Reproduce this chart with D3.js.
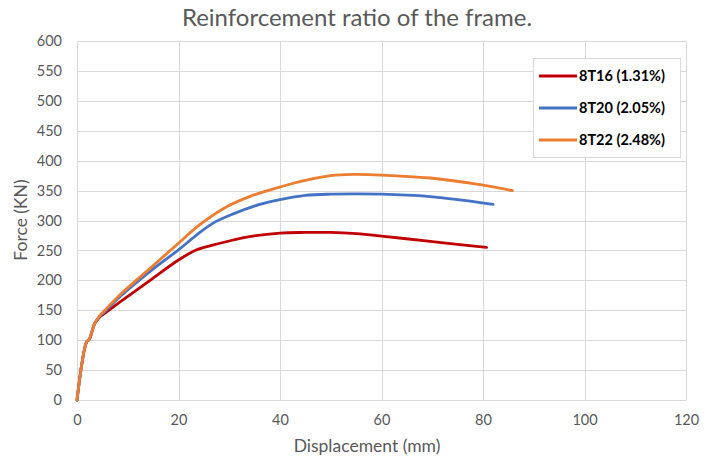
<!DOCTYPE html>
<html>
<head>
<meta charset="utf-8">
<script src="https://cdn.jsdelivr.net/npm/d3@7"></script>
<style>
  body { margin: 0; background: #fff; }
  text { font-family: Lato, "Open Sans", sans-serif; }
</style>
</head>
<body>
<div id="chart-area"></div>
<script>
// Data
var xTicks = [0, 20, 40, 60, 80, 100, 120];
var yTicks = [0, 50, 100, 150, 200, 250, 300, 350, 400, 450, 500, 550, 600];

var t16 = [[0, 0], [1.9, 97], [2.4, 101], [3.5, 128], [4.4, 138], [5.5, 145], [8.5, 164], [14.4, 200], [20, 234],
  [23.6, 251], [28.2, 262], [34, 273], [40, 279], [45, 280], [50, 280], [55, 278], [60, 274], [69.6, 265], [75, 260], [80.7, 255]];
var t20 = [[0, 0], [1.9, 97], [2.4, 101], [3.5, 128], [4.4, 139], [5.5, 148], [8.5, 173], [14.4, 215], [20, 251],
  [23.6, 276], [26.9, 296], [30.8, 311], [36, 327], [40, 335], [45, 342], [50, 344], [60, 344], [69.6, 340], [75, 335], [82, 327]];
var t22 = [[0, 0], [1.9, 97], [2.4, 101], [3.5, 128], [4.4, 140], [5.5, 150], [8.5, 176], [14.4, 220], [20, 262],
  [24.2, 293], [29.5, 323], [34, 340], [40, 356], [45, 367], [50, 375], [54.4, 377], [60, 376], [69.6, 371], [79.4, 360], [85.8, 350]];

var seriesNames = ["8T16 (1.31%)", "8T20 (2.05%)", "8T22 (2.48%)"];
var seriesColors = ["#C00000", "#4472C4", "#ED7D31"];
var seriesData = [t16, t20, t22];

var margin = { left: 77, right: 29, top: 41, bottom: 57 },
  width = 715 - margin.left - margin.right,
  height = 457 - margin.top - margin.bottom;

var svg = d3.select("#chart-area")
  .append("svg")
  .attr("width", 715)
  .attr("height", 457);

var g = svg.append("g")
  .attr("transform", "translate(" + margin.left + "," + margin.top + ")");

var x = d3.scaleLinear().domain([0, 120]).range([0, width]);
var y = d3.scaleLinear().domain([0, 600]).range([height, 0]);

// Gridlines
g.append("g")
  .selectAll("line.h")
  .data(yTicks)
  .enter()
  .append("line")
  .attr("x1", 0)
  .attr("x2", width)
  .attr("y1", function(d) { return Math.round(y(d)) + 0.5; })
  .attr("y2", function(d) { return Math.round(y(d)) + 0.5; })
  .attr("stroke", "#D9D9D9")
  .attr("stroke-width", 1);

g.append("g")
  .selectAll("line.v")
  .data(xTicks)
  .enter()
  .append("line")
  .attr("y1", 0)
  .attr("y2", height)
  .attr("x1", function(d) { return Math.round(x(d)) + 0.5; })
  .attr("x2", function(d) { return Math.round(x(d)) + 0.5; })
  .attr("stroke", "#D9D9D9")
  .attr("stroke-width", 1);

// Axes (labels only)
var xAxis = g.append("g")
  .attr("transform", "translate(0," + height + ")")
  .call(d3.axisBottom(x).tickValues(xTicks).tickSize(0).tickPadding(15));
var yAxis = g.append("g")
  .call(d3.axisLeft(y).tickValues(yTicks).tickSize(0).tickPadding(15));

[xAxis, yAxis].forEach(function(a) {
  a.select(".domain").remove();
  a.selectAll("text")
    .attr("fill", "#595959")
    .attr("font-size", "14.5px")
    .attr("font-family", "Lato, sans-serif");
});

// Lines
var line = d3.line()
  .x(function(d) { return x(d[0]); })
  .y(function(d) { return y(d[1]); })
  .curve(d3.curveCatmullRom.alpha(0.5));

seriesData.forEach(function(s, i) {
  g.append("path")
    .attr("fill", "none")
    .attr("stroke", seriesColors[i])
    .attr("stroke-width", 2.8)
    .attr("stroke-linejoin", "round")
    .attr("stroke-linecap", "round")
    .attr("d", line(s));
});

// Title
svg.append("text")
  .attr("x", 357)
  .attr("y", 26)
  .attr("text-anchor", "middle")
  .attr("font-size", "24px")
  .attr("fill", "#595959")
  .text("Reinforcement ratio of the frame.");

// Axis labels
svg.append("text")
  .attr("x", 367)
  .attr("y", 452)
  .attr("text-anchor", "middle")
  .attr("font-size", "17.5px")
  .attr("fill", "#595959")
  .text("Displacement (mm)");

svg.append("text")
  .attr("transform", "rotate(-90)")
  .attr("x", -220)
  .attr("y", 27)
  .attr("text-anchor", "middle")
  .attr("font-size", "17.5px")
  .attr("fill", "#595959")
  .text("Force (KN)");

// Legend
var legend = svg.append("g").attr("transform", "translate(533,58)");
legend.append("rect")
  .attr("x", 0.5)
  .attr("y", 0.5)
  .attr("width", 147)
  .attr("height", 99)
  .attr("fill", "#fff")
  .attr("stroke", "#D9D9D9");

seriesNames.forEach(function(n, i) {
  var ly = 18 + i * 32;
  legend.append("line")
    .attr("x1", 6)
    .attr("x2", 44)
    .attr("y1", ly)
    .attr("y2", ly)
    .attr("stroke", seriesColors[i])
    .attr("stroke-width", 3);
  legend.append("text")
    .attr("x", 46)
    .attr("y", ly + 5)
    .attr("font-size", "14.5px")
    .attr("font-weight", "bold")
    .attr("fill", "#000")
    .text(n);
});
</script>
</body>
</html>
